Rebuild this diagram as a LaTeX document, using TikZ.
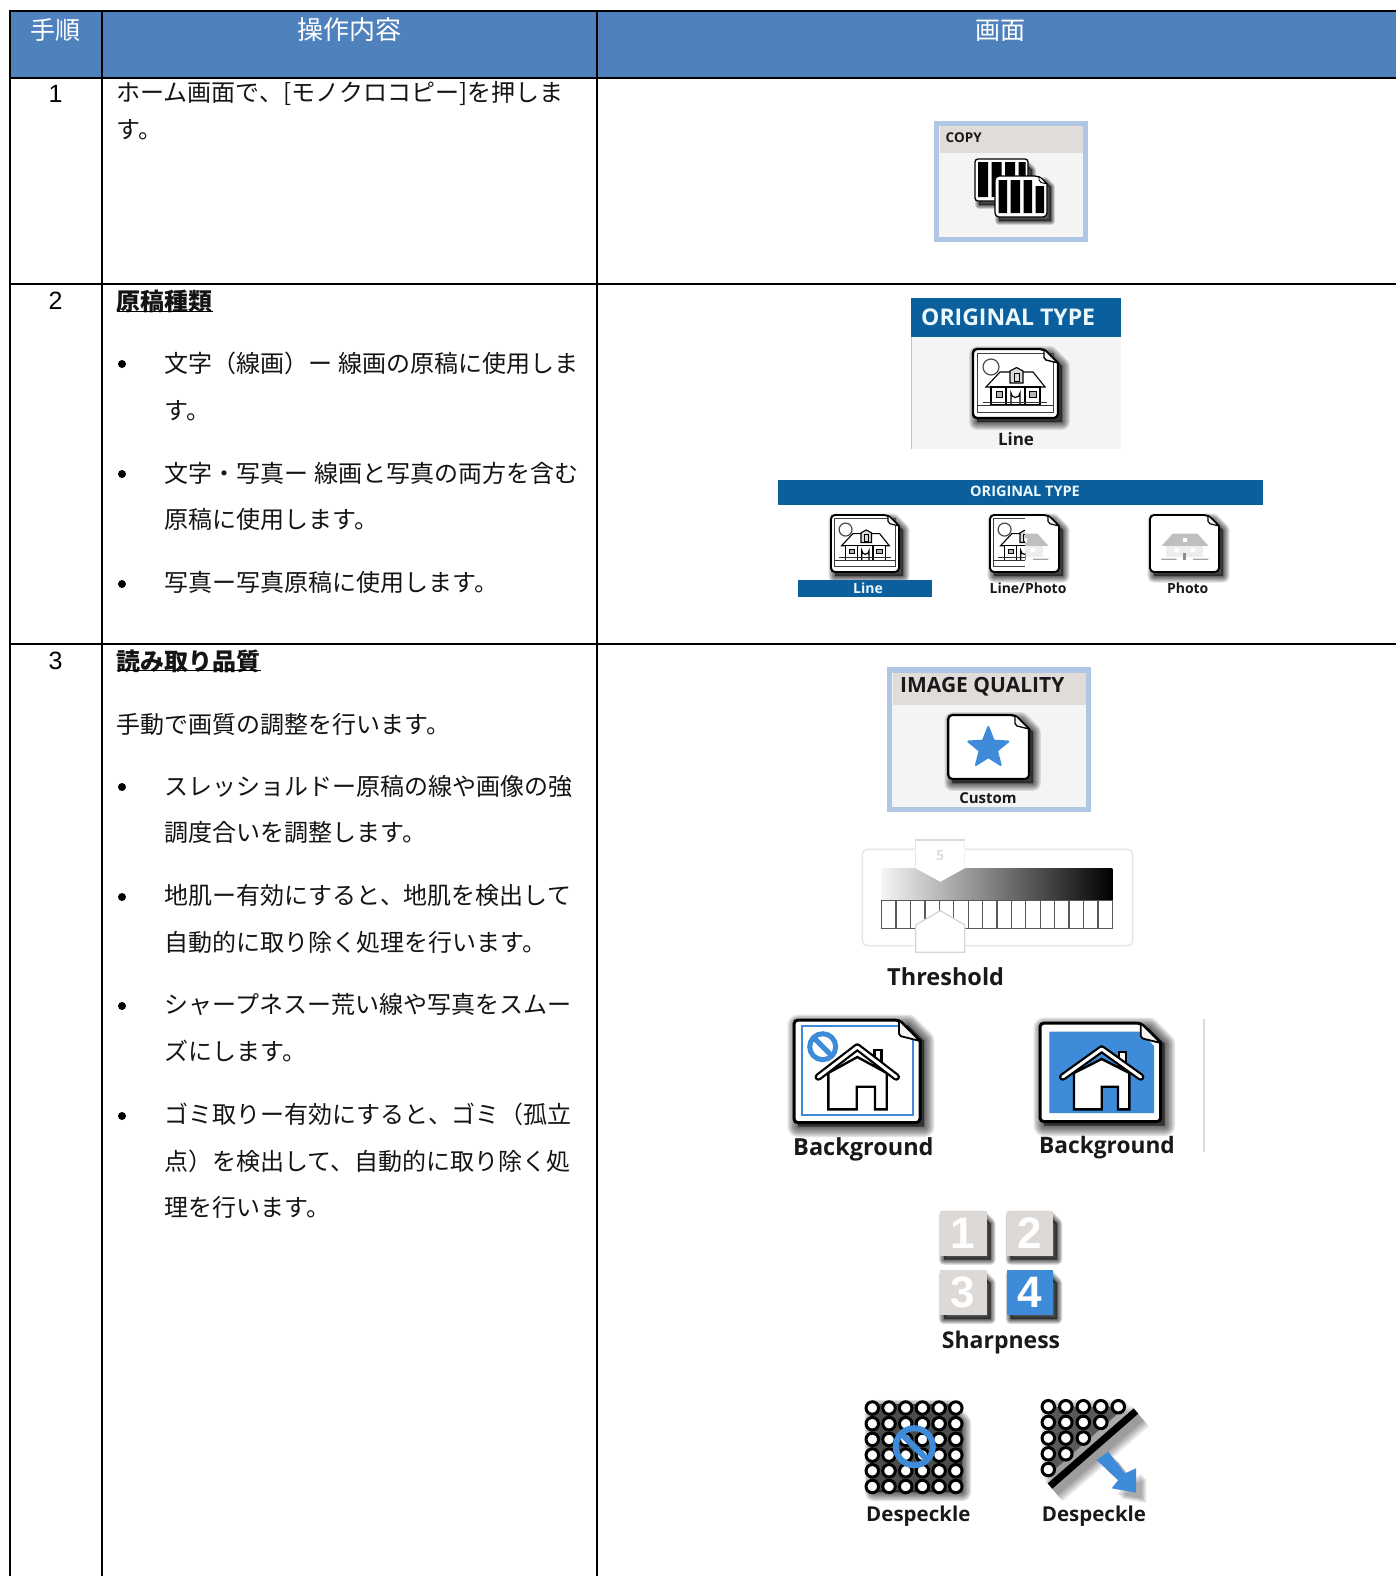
\documentclass[tikz,border=0pt]{standalone}
\usepackage{fontspec}
\usetikzlibrary{shapes.geometric}
\setmainfont{Liberation Sans}
\newfontfamily\jpf{Noto Sans CJK JP}
\newfontfamily\labf{Open Sans}
\definecolor{hdr}{HTML}{4F81BD}
\definecolor{otb}{HTML}{0A5F9C}
\definecolor{ic}{HTML}{3D8BD9}
\definecolor{bord}{HTML}{AFC7E4}
\definecolor{band}{HTML}{E1DCDA}
\definecolor{panel}{HTML}{F4F4F4}
\definecolor{sq}{HTML}{DDD9D6}
\tikzset{
  jp/.style={font=\jpf\fontsize{24}{24}\selectfont,anchor=west,inner sep=0pt,text height=21pt,text depth=3pt,text=black!92},
  jpb/.style={jp,font=\jpf\bfseries\fontsize{24}{24}\selectfont},
  hd/.style={font=\jpf\fontsize{25}{25}\selectfont,text=white,inner sep=0pt,text height=22pt,text depth=3pt},
  num/.style={font=\fontsize{25}{25}\selectfont,inner sep=0pt},
  lab/.style={font=\labf\bfseries\fontsize{#1}{#1}\selectfont,inner sep=0pt,text=black!90},
  lab/.default=16,
  grid line/.style={line width=2pt,black},
  dot/.style={circle,draw=black,fill=white,line width=3pt,minimum size=12.5pt,inner sep=0pt},
}
% soft shadow with a cut top right corner: x1 y1 x2 y2 spread
\newcommand{\softshadow}[5]{%
  \foreach \k in {1,...,7}{%
    \pgfmathsetmacro\wd{#5*(8-\k)/7*2.6}%
    \draw[black,fill=black,opacity=.11,line width=\wd pt,line join=round]
      (#1+4,#2+5) -- (#3+4-#5*2,#2+5) -- (#3+4,#2+5+#5*2) -- (#3+4,#4+4) -- (#1+4,#4+4) -- cycle;}}
% document outline: x1 y1 x2 y2 ear linewidth
\newcommand{\docshape}[6]{%
  \draw[black,fill=white,line width=#6 pt,rounded corners=4pt]
    (#1,#2) -- (#3-#5,#2) [sharp corners] -- (#3,#2+#5) [rounded corners=4pt] -- (#3,#4) -- (#1,#4) -- cycle;}
\newcommand{\docear}[6]{%
  \draw[black,fill=panel,line width=.6*#6 pt,rounded corners=2pt]
    (#3-#5,#2) -- (#3-#5,#2+#5*.75) -- (#3,#2+#5) -- cycle;}
% line drawing of a house in a 84 x 70 space
\newcommand{\houselines}{%
  \draw[black!75,line width=.7pt] (4,4) rectangle (80,63);
  \draw[black!70,line width=1.2pt,fill=white] (18,18) circle (8);
  \draw[black,line width=1.1pt,fill=white] (13,38) -- (27,23) -- (60,23) -- (72,38) -- cycle;
  \draw[black,line width=1.1pt,fill=black!15] (37,34) -- (37,22) -- (43.5,18.5) -- (50,22) -- (50,34) -- cycle;
  \draw[black,line width=.8pt] (41,24) rectangle (46,32);
  \draw[black,line width=1.1pt,fill=white] (18,38) rectangle (67,56);
  \draw[black,line width=1pt,fill=black!30] (23,42) rectangle (29,48) (56,42) rectangle (63,48);
  \draw[black,line width=1.5pt] (33,38) -- (33,56) (52,38) -- (52,56);
  \draw[black,line width=1.2pt] (38,56) -- (38,44) arc (180:0:4.5) -- (47,56);
  \draw[black!80,line width=.9pt] (4,56) -- (80,56) (10,53) -- (74,53);
}
\newcommand{\housephoto}{%
  \fill[black!25] (14.5,38) -- (28,23) -- (58.5,23) -- (72,38) -- cycle;
  \fill[white] (41,28) rectangle (46,33);
  \fill[black!7] (20,38) rectangle (66,52);
  \fill[white] (30,41) rectangle (36,46) (50,41) rectangle (56,46);
  \fill[black!45] (41,47) rectangle (45,55);
  \fill[black!35] (14,54) rectangle (33,55.5) (53,54) rectangle (72,55.5);
}
% home icon: peak x, peak y, half eave, eave y, body L, body R, bottom, door L, door R, door top
\newcommand{\homeicon}[9]{\def\pkx{#1}\def\pky{#2}\def\eav{#3}\def\evy{#4}\def\bdl{#5}\def\bdr{#6}\def\bot{#7}\def\dl{#8}\def\dr{#9}\homeiconC}
\newcommand{\homeiconC}[1]{%
  \draw[black,fill=white,line width=2.4pt] (\pkx+17,\pky+18) -- (\pkx+17,\pky+3) -- (\pkx+24,\pky+3) -- (\pkx+24,\pky+24);
  \draw[black,fill=white,line width=2.4pt,line join=miter]
    (\bdl,\evy-4) -- (\pkx,\pky+10) -- (\bdr,\evy-4) -- (\bdr,\bot) -- (\dr,\bot) -- (\dr,#1) -- (\dl,#1) -- (\dl,\bot) -- (\bdl,\bot) -- cycle;
  \draw[black,line width=7.5pt,line cap=round,line join=round] (\pkx-\eav,\evy) -- (\pkx,\pky) -- (\pkx+\eav,\evy);
  \draw[white,line width=3pt,line cap=round,line join=round] (\pkx-\eav,\evy) -- (\pkx,\pky) -- (\pkx+\eav,\evy);
}
\begin{document}
\begin{tikzpicture}[x=1pt,y=-1pt]
\useasboundingbox (0,0) rectangle (1396,1576);
\fill[white] (0,0) rectangle (1396,1576);
% ---------- table
\fill[hdr] (10,11) rectangle (1396,77.7);
\draw[grid line] (10,11) -- (1396,11) (10,77.7) -- (1396,77.7) (10,283.7) -- (1396,283.7) (10,643.7) -- (1396,643.7);
\draw[grid line] (10,10) -- (10,1576) (102,10) -- (102,1576) (597,10) -- (597,1576);
\node[hd] (h1) at (55.6,30) {手順};
\node[hd,font=\jpf\fontsize{26}{26}\selectfont] (h2) at (349.5,30) {操作内容};
\node[hd] (h3) at (1000,30) {画面};
\node[num] (n1) at (55.5,94) {1};
\node[num] (n2) at (55.5,300.5) {2};
\node[num] (n3) at (55.5,661) {3};
% ---------- row text
\node[jp] (r1a) at (116.5,93) {ホーム画面で、[モノクロコピー]を押しま};
\node[jp] (r1b) at (116.5,130) {す。};
\node[jpb] (r2h) at (116.5,301) {原稿種類};
\draw[line width=1.5pt] (116.5,311.7) -- (213,311.7);
\fill (122,364) circle (4);
\node[jp] (r2a) at (164.5,363) {文字（線画）ー 線画の原稿に使用しま};
\node[jp] (r2b) at (164.5,410) {す。};
\fill (122,474) circle (4);
\node[jp] (r2c) at (164.5,473) {文字・写真ー 線画と写真の両方を含む};
\node[jp] (r2d) at (164.5,519) {原稿に使用します。};
\fill (122,584) circle (4);
\node[jp] (r2e) at (164.5,582) {写真ー写真原稿に使用します。};
\node[jpb] (r3h) at (116.5,661) {読み取り品質};
\draw[line width=1.5pt] (116.5,670.7) -- (260.7,670.7);
\node[jp] (r3a) at (116.5,724) {手動で画質の調整を行います。};
\fill (122,787) circle (4);
\node[jp] (r3b) at (164.5,786) {スレッショルドー原稿の線や画像の強};
\node[jp] (r3c) at (164.5,832.5) {調度合いを調整します。};
\fill (122,897) circle (4);
\node[jp] (r3d) at (164.5,895.5) {地肌ー有効にすると、地肌を検出して};
\node[jp] (r3e) at (164.5,942) {自動的に取り除く処理を行います。};
\fill (122,1006) circle (4);
\node[jp] (r3f) at (164.5,1004.5) {シャープネスー荒い線や写真をスムー};
\node[jp] (r3g) at (164.5,1051) {ズにします。};
\fill (122,1116) circle (4);
\node[jp] (r3i) at (164.5,1114.5) {ゴミ取りー有効にすると、ゴミ（孤立};
\node[jp] (r3j) at (164.5,1161) {点）を検出して、自動的に取り除く処};
\node[jp] (r3k) at (164.5,1207) {理を行います。};
% ---------- COPY
\draw[bord,fill=panel,line width=5.5pt] (936.7,123.7) rectangle (1085.3,239.3);
\fill[band] (939.5,126.5) rectangle (1082.5,152.7);
\node[lab=13.5,anchor=west] (copy) at (945.5,138) {COPY};
\softshadow{975}{159}{1028}{201}{3}
\draw[black,fill=white,line width=1.3pt,rounded corners=3pt] (975,159) rectangle (1028,201);
\fill[black] (978,162) rectangle (988,197) (991.5,162) rectangle (1001.5,197) (1005,162) rectangle (1015,197) (1018.5,162) rectangle (1025.5,197);
\softshadow{995}{176}{1047}{217}{3}
\docshape{995}{176}{1047}{217}{8}{1.3}
\fill[black] (998.5,180) rectangle (1007,213) (1010.5,180) rectangle (1020,213) (1023.5,180) rectangle (1032,213) (1035.5,186) rectangle (1044,213);
\docear{995}{176}{1047}{217}{8}{1.5}
% ---------- ORIGINAL TYPE (single)
\fill[panel] (911,298.3) rectangle (1121,449.3);
\draw[bord,line width=.8pt] (911,298.3) -- (911,449.3);
\fill[otb] (911,298.3) rectangle (1121,337.3);
\node[lab=23,anchor=west,text=white!92!cyan] (ot1) at (921,317) {ORIGINAL TYPE};
\softshadow{973}{349}{1058}{418}{6}
\docshape{973}{349}{1058}{418}{14}{2.4}
\begin{scope}[shift={(973,349)}] \houselines \end{scope}
\docear{973}{349}{1058}{418}{14}{2.4}
\node[lab=17] (ot1l) at (1016,439) {Line};
% ---------- ORIGINAL TYPE (three)
\fill[otb] (778,480) rectangle (1263,505.3);
\node[lab=14.5,text=white!92!cyan] (ot2) at (1025,491.5) {ORIGINAL TYPE};
\softshadow{831}{515}{899}{572}{5}
\docshape{831}{515}{899}{572}{11}{1.9}
\begin{scope}[shift={(831,515)},scale=.81] \houselines \end{scope}
\docear{831}{515}{899}{572}{11}{1.9}
\softshadow{990}{515}{1059}{572}{5}
\docshape{990}{515}{1059}{572}{11}{1.9}
\begin{scope}[shift={(990,515)},scale=.81]
  \begin{scope} \clip (0,0) rectangle (43,70); \houselines \end{scope}
  \begin{scope} \clip (43,2) rectangle (80,66); \housephoto \end{scope}
\end{scope}
\docear{990}{515}{1059}{572}{11}{1.9}
\softshadow{1150}{515}{1219}{572}{5}
\docshape{1150}{515}{1219}{572}{11}{1.9}
\begin{scope}[shift={(1150,515)},scale=.81] \housephoto \end{scope}
\docear{1150}{515}{1219}{572}{11}{1.9}
\fill[otb] (798,580) rectangle (932,597.3);
\node[lab=14,text=white!92!cyan] (ot2a) at (868,588) {Line};
\node[lab=14] (ot2b) at (1028,588) {Line/Photo};
\node[lab=14] (ot2c) at (1187.7,588) {Photo};
% ---------- IMAGE QUALITY
\draw[bord,fill=panel,line width=5.5pt] (889.7,670) rectangle (1088.3,809.3);
\fill[band] (892.5,672.8) rectangle (1085.5,704.7);
\node[lab=21,anchor=west] (iq) at (900,686.5) {IMAGE QUALITY};
\softshadow{948.3}{715}{1029}{779}{6}
\docshape{948.3}{715}{1029}{779}{14}{2.2}
\docear{948.3}{715}{1029}{779}{14}{2.2}
\node[star,star points=5,star point ratio=2.3,fill=ic,draw=ic,line join=round,line width=2pt,minimum size=42pt,inner sep=0pt] (iqs) at (988.3,748) {};
\node[lab=15] (iql) at (988,798.5) {Custom};
% ---------- Threshold
\draw[black!10,line width=1.4pt,rounded corners=5pt] (862.3,849.3) rectangle (1132.7,945.7);
\shade[left color=black!4,right color=black] (881.7,868.3) rectangle (1112.3,900.7);
\draw[black!65,line width=1.3pt,fill=white] (881.7,900.7) rectangle (1112.3,928.3);
\foreach \i in {1,...,15}{\draw[black!65,line width=1.3pt] (881.7+14.41*\i,900.7) -- (881.7+14.41*\i,928.3);}
\draw[black!14,fill=white,line width=1.3pt] (964.7,868.3) -- (964.7,840) -- (915.7,840) -- (915.7,868.3);
\fill[white] (915.7,868.3) -- (915.7,841) -- (964.7,841) -- (964.7,868.3) -- (940.3,881.7) -- cycle;
\node[font=\labf\bfseries\fontsize{14}{14}\selectfont,text=black!12,inner sep=0pt] (th5) at (940,856) {5};
\draw[black!16,fill=white,line width=1.3pt] (915.7,952.3) -- (915.7,925) -- (940.3,910.7) -- (964.7,925) -- (964.7,952.3) -- cycle;
\node[lab=23.5,anchor=west] (thl) at (887,976.5) {Threshold};
% ---------- Background 1
\softshadow{794}{1020}{920}{1122.7}{8}
\docshape{794}{1020}{920}{1122.7}{21}{3}
\draw[ic,line width=2pt] (901,1026) -- (802.3,1026) -- (802.3,1115) -- (913.3,1115) -- (913.3,1040);
\homeicon{857.3}{1047}{39}{1077}{828.3}{886.7}{1109.3}{856.7}{875}{1086.7}
\draw[ic,line width=5pt] (822.7,1046.7) circle (13);
\draw[ic,line width=5pt] (813.5,1037.5) -- (831.9,1055.9);
\docear{794}{1020}{920}{1122.7}{21}{3}
\node[lab=23.5,anchor=west] (bg1) at (793,1149) {Background};
% ---------- Background 2
\softshadow{1040}{1023}{1160.7}{1121.7}{8}
\docshape{1040}{1023}{1160.7}{1121.7}{20}{3}
\fill[ic] (1049.3,1031.7) -- (1141,1031.7) -- (1154,1046) -- (1154,1113) -- (1049.3,1113) -- cycle;
\homeicon{1101.7}{1049}{39}{1077}{1074}{1129.3}{1109.3}{1101.7}{1118}{1086.7}
\docear{1040}{1023}{1160.7}{1121.7}{20}{3}
\node[lab=22.7,anchor=west] (bg2) at (1039,1148) {Background};
\draw[black!14,line width=2pt] (1204.3,1019.3) -- (1204.3,1151.7);
% ---------- Sharpness
\foreach \x/\y/\d/\c/\nm in {940/1210.7/1/sq/sa,1006.7/1210.7/2/sq/sb,940/1270/3/sq/sc,1006.7/1270/4/ic/sd}{
  \softshadow{\x}{\y}{\x+46.5}{\y+45}{4}
  \fill[\c] (\x,\y) rectangle (\x+46.5,\y+45);
  \node[font=\bfseries\fontsize{44}{44}\selectfont,text=white,inner sep=0pt] (\nm) at (\x+23.2,\y+22.5) {\d};
}
\node[lab=23] (shl) at (1001,1343) {Sharpness};
% ---------- Despeckle 1
\softshadow{870}{1404}{958}{1488}{7}
\fill[black!70] (870,1404) rectangle (958,1490);
\foreach \r in {0,...,5}{\foreach \c in {0,...,5}{
  \node[dot,name=da\r\c] at (872.3+16.7*\c,1408+15.7*\r) {};}}
\draw[ic,line width=6pt] (914.3,1446.7) circle (18.5);
\draw[ic,line width=6pt] (901.5,1433.9) -- (927.1,1459.5);
\node[lab=20.5] (dsa) at (918.3,1516.5) {Despeckle};
% ---------- Despeckle 2
\foreach \s in {20,16,12,8,4}{
  \draw[black,fill=black,opacity=.09,line width=\s pt,line join=round] (1052,1410) -- (1120,1410) -- (1052,1472) -- cycle;
  \draw[black,opacity=.09,line width=7pt+\s pt] (1054,1491) -- (1140,1416);}
\fill[black!65] (1048,1407) -- (1125,1407) -- (1048,1475) -- cycle;
\foreach \r/\n in {0/4,1/3,2/2,3/1,4/0}{\foreach \c in {0,...,\n}{
  \node[dot,name=db\r\c] at (1048.3+17.5*\c,1406.7+15.7*\r) {};}}
\draw[black,line width=7pt] (1050,1486) -- (1136,1411);
\foreach \s in {6,4,2}{\fill[black,opacity=.12] (1100.7+\s,1464+\s) -- (1112.3+\s,1455.7+\s) -- (1129+\s,1477.3+\s) -- (1140+\s,1472.3+\s) -- (1140+\s,1496.7+\s) -- (1115.7+\s,1492.3+\s) -- (1122.3+\s,1484+\s) -- cycle;}
\fill[ic] (1096.7,1460) -- (1108.3,1451.7) -- (1125,1473.3) -- (1136,1468.3) -- (1136,1492.7) -- (1111.7,1488.3) -- (1118.3,1480) -- cycle;
\node[lab=20.5] (dsb) at (1094,1516) {Despeckle};
\end{tikzpicture}
\end{document}
